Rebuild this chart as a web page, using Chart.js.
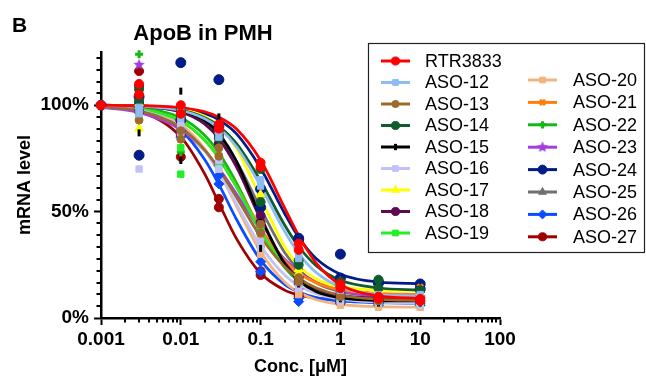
<!DOCTYPE html>
<html>
<head>
<meta charset="utf-8">
<script src="https://cdn.jsdelivr.net/npm/chart.js@4/dist/chart.umd.min.js"></script>
<style>
  html, body { margin: 0; padding: 0; background: #fff; }
  #wrap { width: 646px; height: 376px; }
</style>
</head>
<body>
<div id="wrap"><canvas id="graphCanvas" width="646" height="376"></canvas></div>
<script>
/* ---------- DATA ---------- */
const seriesNames = ["RTR3833", "ASO-12", "ASO-13", "ASO-14", "ASO-15", "ASO-16", "ASO-17", "ASO-18", "ASO-19",
  "ASO-20", "ASO-21", "ASO-22", "ASO-23", "ASO-24", "ASO-25", "ASO-26", "ASO-27"];
const seriesColors = ["#ff0000", "#8cbcf2", "#9c6a2c", "#0f5c2c", "#000000", "#c2c2f7", "#ffff00", "#5e0a52", "#22f022",
  "#f2b47e", "#ff7f0e", "#14b814", "#a23ee0", "#021c86", "#707070", "#0a4cff", "#a00000"];

const controlConc = 0.001;   // untreated, plotted at left edge
const controlLevel = 100;
const doseConcs = [0.003, 0.01, 0.03, 0.1, 0.3, 1, 3, 10];

// replicate 1 and 2, % mRNA, one row per series
const replicateA = [
  [110, 100, 91, 73, 35, 16, 9, 9],
  [99, 97, 88, 65, 30, 14, 11, 10],
  [93, 84, 80, 44, 19, 11, 9, 8],
  [107.5, 98, 84.5, 70, 27, 17, 18, 13],
  [87, 106.6, 94.5, 32.7, 19, 10, 8, 7],
  [70, 91, 74, 36, 14, 9, 7, 7],
  [89, 97, 90, 55, 21, 17, 13, 12],
  [109, 93, 86, 48, 19, 11, 9, 9],
  [99, 80, 76, 40, 18, 9, 7, 7],
  [96, 90, 74, 30, 12, 6, 5, 5],
  [100, 91, 78, 38, 21, 13, 12, 14.5],
  [124, 78, 72, 33.5, 15.5, 9, 7, 7],
  [119, 88, 71, 42, 13, 12, 10, 9],
  [76.5, 120, 112, 60.6, 37.5, 30, 16.4, 13.6],
  [98, 95, 86, 57.7, 22, 12, 10, 10],
  [97, 88, 67, 26.4, 9.2, 8.5, 7, 6],
  [116, 75.7, 52, 20.2, 10, 7.2, 8, 8]
];
const replicateB = [
  [105, 96, 89, 71, 32, 14, 10, 8],
  [96, 94, 85, 62, 28, 13, 10, 11],
  [97, 88, 76, 40, 17, 10, 8, 9],
  [102, 95, 88, 54.5, 25, 15, 14, 13],
  [99, 74, 85, 45, 16, 9, 7, 8],
  [98, 87, 70, 33, 16, 8, 8, 6],
  [101, 99, 88, 58, 23, 15, 14, 13],
  [101, 97, 82, 45, 17, 10, 10, 8],
  [96, 67.6, 72, 42, 16, 10, 8, 6],
  [99, 92, 70, 33, 11, 7, 6, 5],
  [97, 94, 76, 44, 20, 14, 11, 11.3],
  [100, 95, 80, 40, 17, 8, 8, 6],
  [98, 86, 73, 40, 15, 11, 9, 10],
  [104, 93, 90, 52, 37, 18.8, 17, 16],
  [100, 97, 83, 50, 24, 13, 11, 9],
  [99, 85, 63, 21.7, 7.7, 7, 6, 7],
  [97, 86, 56, 22, 11, 8, 7, 8]
];

// fitted curves
const fitConcs = [0.001, 0.003, 0.01, 0.02, 0.03, 0.05, 0.1, 0.2, 0.3, 0.5, 1, 3, 10];
const fitLevels = [
  [100, 99.8, 98.9, 96.9, 94.4, 88.8, 74.1, 51.8, 38.7, 25.7, 15.7, 10.4, 9.2],
  [99.9, 99.5, 97.5, 93.6, 89.3, 80.5, 62.0, 40.7, 30.4, 21.3, 14.6, 11.0, 10.2],
  [99.3, 97.3, 89.5, 78.9, 70.0, 56.6, 38.2, 24.1, 18.6, 14.1, 10.7, 8.8, 8.2],
  [99.9, 99.6, 97.7, 94.1, 90.1, 81.9, 64.4, 43.7, 33.6, 24.5, 17.7, 14.1, 13.2],
  [100, 99.7, 97.6, 92.8, 86.6, 73.5, 47.7, 25.4, 17.7, 12.3, 9.4, 8.2, 8.0],
  [99.4, 97.7, 89.8, 78.3, 68.4, 53.5, 33.9, 20.2, 15.2, 11.4, 8.9, 7.5, 7.1],
  [100, 99.8, 98.3, 94.7, 90.1, 79.5, 56.5, 33.5, 24.6, 18.3, 14.7, 13.1, 13.0],
  [99.9, 99.5, 96.8, 91.1, 84.3, 70.9, 46.5, 26.0, 18.8, 13.6, 10.6, 9.3, 9.0],
  [99.6, 98.3, 92.5, 83.5, 75.1, 61.4, 40.8, 24.5, 18.2, 13.1, 9.6, 7.6, 7.1],
  [99.6, 98.2, 91.0, 79.4, 68.8, 52.5, 31.1, 16.9, 12.1, 8.6, 6.4, 5.3, 5.1],
  [99.6, 98.3, 92.4, 83.4, 75.1, 61.7, 42.1, 26.9, 21.1, 16.5, 13.3, 11.6, 11.1],
  [99.7, 98.8, 94.1, 85.8, 77.6, 63.4, 41.3, 23.8, 17.3, 12.4, 9.1, 7.5, 7.1],
  [99.0, 96.6, 88.5, 78.5, 70.3, 58.2, 41.3, 27.6, 21.8, 16.8, 12.8, 10.2, 9.3],
  [100, 99.8, 98.6, 96.1, 93.1, 86.5, 70.4, 49.1, 37.9, 27.8, 20.6, 16.9, 16.2],
  [99.9, 99.5, 96.8, 91.5, 85.5, 73.6, 51.5, 30.8, 22.7, 16.4, 12.4, 10.5, 10.1],
  [99.5, 97.6, 88.3, 74.4, 62.8, 46.3, 27.2, 15.8, 12.2, 9.6, 8.0, 7.2, 7.0],
  [99.4, 97.2, 85.1, 67.6, 54.0, 37.2, 21.0, 13.1, 10.8, 9.3, 8.5, 8.1, 8.0]
];

const xTickValues = [0.001, 0.01, 0.1, 1, 10, 100];
const xTickLabels = ["0.001", "0.01", "0.1", "1", "10", "100"];
const yTickValues = [0, 50, 100];
const yTickLabels = ["0%", "50%", "100%"];

/* ---------- MARKERS ---------- */
function starImage(color, r) {
  const c = document.createElement("canvas");
  c.width = c.height = r * 2 + 2;
  const g = c.getContext("2d");
  g.fillStyle = color;
  g.beginPath();
  for (let k = 0; k < 10; k++) {
    const rad = k % 2 ? r * 0.45 : r;
    const a = -Math.PI / 2 + k * Math.PI / 5;
    const px = r + 1 + rad * Math.cos(a), py = r + 1 + rad * Math.sin(a);
    k ? g.lineTo(px, py) : g.moveTo(px, py);
  }
  g.closePath();
  g.fill();
  return c;
}

const markerStyles = ["circle", "rect", "circle", "circle", "line", "rect", "triangle", "circle", "rect",
  "rect", "crossRot", "cross", starImage("#a23ee0", 6), "circle", "triangle", "rectRot", "circle"];
const markerSizes = [4.5, 4.5, 4, 4.5, 3.5, 4.5, 5, 4.5, 4.5, 4.5, 4, 4, 6, 5, 5, 5, 4.5];
const markerRot = markerStyles.map(s => (s === "line" ? 90 : 0));
const markerBorder = markerStyles.map(s => (s === "line" ? 3 : (s === "cross" || s === "crossRot") ? 3 : 1));

const FONT = "'Liberation Sans', Arial, sans-serif";

/* ---------- DATASETS ---------- */
const datasets = [];
seriesNames.forEach((name, i) => {
  const pts = [{ x: controlConc, y: controlLevel }];
  doseConcs.forEach((c, j) => {
    pts.push({ x: c, y: replicateA[i][j] });
    pts.push({ x: c, y: replicateB[i][j] });
  });
  datasets.push({
    label: name,
    data: pts,
    showLine: false,
    order: 1,
    clip: false,
    backgroundColor: seriesColors[i],
    borderColor: seriesColors[i],
    pointStyle: markerStyles[i],
    pointRadius: markerSizes[i],
    pointRotation: markerRot[i],
    pointBorderWidth: markerBorder[i]
  });
});
seriesNames.forEach((name, i) => {
  datasets.push({
    label: name + " fit",
    data: fitConcs.map((c, j) => ({ x: c, y: fitLevels[i][j] })),
    showLine: true,
    order: 2,
    clip: false,
    borderColor: seriesColors[i],
    borderWidth: 2.75,
    pointRadius: 0,
    cubicInterpolationMode: "monotone"
  });
});

/* ---------- PLUGINS ---------- */
const decorPlugin = {
  id: "decor",
  afterDraw(chart) {
    const ctx = chart.ctx;
    const xs = chart.scales.x, ys = chart.scales.y, area = chart.chartArea;
    ctx.save();
    // minor ticks
    ctx.strokeStyle = "#000";
    ctx.lineWidth = 2;
    ctx.beginPath();
    for (let d = -3; d < 2; d++) {
      for (let m = 2; m <= 9; m++) {
        const px = Math.round(xs.getPixelForValue(m * Math.pow(10, d)));
        ctx.moveTo(px, area.bottom);
        ctx.lineTo(px, area.bottom + 4.5);
      }
    }
    for (let k = 1; k <= 22; k++) {
      if (k % 9 === 0) continue;
      const py = Math.round(ys.getPixelForValue(k * 50 / 9));
      ctx.moveTo(area.left - 4.5, py);
      ctx.lineTo(area.left, py);
    }
    ctx.stroke();

    // panel letter + title
    ctx.fillStyle = "#000";
    ctx.textBaseline = "alphabetic";
    ctx.font = "bold 21px " + FONT;
    ctx.textAlign = "left";
    ctx.fillText("B", 12, 32);
    ctx.font = "bold 22px " + FONT;
    ctx.textAlign = "center";
    ctx.fillText("ApoB in PMH", 203, 40);

    // legend box
    ctx.lineWidth = 1.2;
    ctx.strokeStyle = "#222";
    ctx.strokeRect(368.5, 43.5, 276, 209);
    ctx.font = "18px " + FONT;
    ctx.textAlign = "left";
    ctx.textBaseline = "middle";
    seriesNames.forEach((name, i) => {
      const col = i < 9 ? 0 : 1;
      const row = col === 0 ? i : i - 9;
      const y = col === 0 ? 61 + row * 21.5 : 80 + row * 22.4;
      const x0 = col === 0 ? 381 : 528;
      const x1 = x0 + 29;
      ctx.strokeStyle = seriesColors[i];
      ctx.lineWidth = 3;
      ctx.beginPath();
      ctx.moveTo(x0, y);
      ctx.lineTo(x1, y);
      ctx.stroke();
      ctx.fillStyle = seriesColors[i];
      ctx.lineWidth = markerBorder[i];
      Chart.helpers.drawPoint(ctx, {
        pointStyle: markerStyles[i],
        radius: markerSizes[i] * 0.9,
        rotation: markerRot[i],
        borderWidth: markerBorder[i]
      }, (x0 + x1) / 2, y);
      ctx.fillStyle = "#000";
      ctx.fillText(name, col === 0 ? 425 : 573, y + 1);
    });
    ctx.restore();
  }
};

/* ---------- CHART ---------- */
const tickFont = { family: FONT, size: 19, weight: "bold" };
const titleFont = { family: FONT, size: 18, weight: "bold", lineHeight: 1 };

new Chart(document.getElementById("graphCanvas").getContext("2d"), {
  type: "scatter",
  data: { datasets },
  options: {
    responsive: false,
    animation: false,
    devicePixelRatio: 1,
    layout: { padding: { left: 0, top: 52, right: 146, bottom: 0 } },
    plugins: { legend: { display: false }, tooltip: { enabled: false }, title: { display: false } },
    scales: {
      x: {
        type: "logarithmic",
        min: 0.001,
        max: 100,
        afterBuildTicks: s => { s.ticks = xTickValues.map(v => ({ value: v })); },
        afterFit: s => { s.height = 58; },
        ticks: {
          autoSkip: false,
          maxRotation: 0,
          color: "#000",
          font: tickFont,
          padding: 3,
          callback: (v, i) => xTickLabels[i]
        },
        grid: { drawOnChartArea: false, drawTicks: true, tickLength: 7, tickWidth: 2, tickColor: "#000" },
        border: { display: true, color: "#000", width: 2.5 },
        title: { display: true, text: "Conc. [\u03bcM]", color: "#000", font: titleFont, padding: { top: 0, bottom: 0 } }
      },
      y: {
        min: 0,
        max: 125,
        afterBuildTicks: s => { s.ticks = yTickValues.map(v => ({ value: v })); },
        afterFit: s => { s.width = 101; },
        ticks: {
          color: "#000",
          font: tickFont,
          padding: 5,
          callback: (v, i) => yTickLabels[i]
        },
        grid: { drawOnChartArea: false, drawTicks: true, tickLength: 7, tickWidth: 2, tickColor: "#000" },
        border: { display: true, color: "#000", width: 2.5 },
        title: { display: true, text: "mRNA level", color: "#000", font: titleFont, padding: { top: 16, bottom: 0 } }
      }
    }
  },
  plugins: [decorPlugin]
});
</script>
</body>
</html>
